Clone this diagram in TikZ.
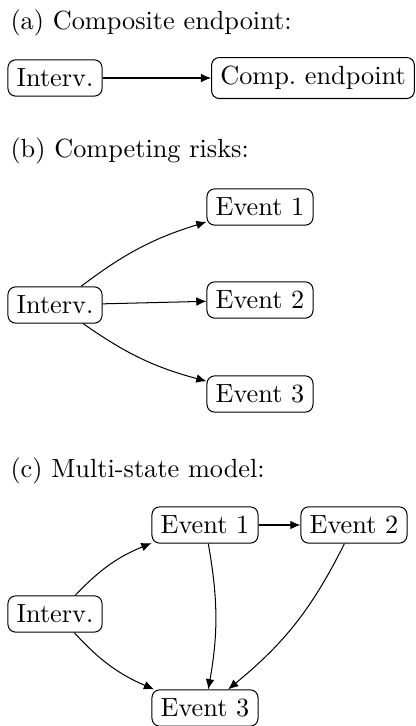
\documentclass[tikz,border=0pt]{standalone}
\usepackage{tikz}
\usetikzlibrary{positioning}
\usetikzlibrary {arrows.meta}
\tikzset{statebox/.style={rectangle,rounded corners=3pt,draw=black,fill=white,
inner sep=3.4pt,minimum height=14.2pt,font=\fontsize{10.3}{12}\selectfont}}
\tikzset{paneltitle/.style={rectangle,draw=none,inner sep=0pt,anchor=base west,
font=\fontsize{10.3}{12}\selectfont}}
\tikzset{trans/.style={line width=0.4pt,-{Latex[length=4pt,width=3.4pt]}}}

\begin{document}
\begin{tikzpicture}[x=0.392pt,y=-0.392pt]
        \useasboundingbox (0,0) rectangle (416,726);

        % (a)
        \node[paneltitle] (titleA) at (10,29) {(a) Composite endpoint:};
        \node[statebox] (intA) at (55,78) {Interv.};
        \node[statebox] (compA) at (313,78) {Comp.\ endpoint};
        \draw[trans] (intA) -- (compA);

        % (b)
        \node[paneltitle] (titleB) at (10,157) {(b) Competing risks:};
        \node[statebox] (intB) at (55,305) {Interv.};
        \node[statebox] (evB1) at (260,207) {Event 1};
        \node[statebox] (evB2) at (260,300) {Event 2};
        \node[statebox] (evB3) at (260,394) {Event 3};
        \draw[trans] (intB) to[bend left=10] (evB1);
        \draw[trans] (intB) -- (evB2);
        \draw[trans] (intB) to[bend right=10] (evB3);

        % (c)
        \node[paneltitle] (titleC) at (10,477) {(c) Multi-state model:};
        \node[statebox] (intC) at (55,614) {Interv.};
        \node[statebox] (evC1) at (205,525) {Event 1};
        \node[statebox] (evC2) at (354,525) {Event 2};
        \node[statebox] (evC3) at (205,708) {Event 3};
        \draw[trans] (intC) to[bend left=12] (evC1);
        \draw[trans] (intC) to[bend right=12] (evC3);
        \draw[trans] (evC1) -- (evC2);
        \draw[trans] (evC1) to[bend left=10] (evC3);
        \draw[trans] (evC2) to[bend left=12] (evC3);

    \end{tikzpicture}
\end{document}
